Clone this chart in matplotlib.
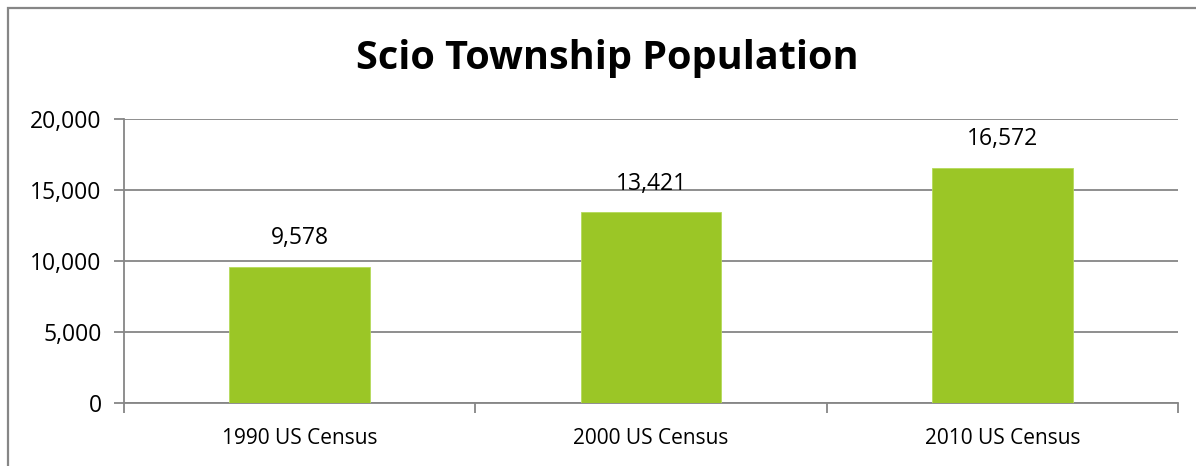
import matplotlib.pyplot as plt
from matplotlib.patches import Rectangle
from matplotlib.ticker import FuncFormatter

categories = ["1990 US Census", "2000 US Census", "2010 US Census"]
population = [9578, 13421, 16572]
y_ticks = [0, 5000, 10000, 15000, 20000]

plt.rcParams['font.family'] = ['Open Sans', 'DejaVu Sans']

fig = plt.figure(figsize=(11.96, 4.66), dpi=100)
W, H = 1196, 466
ax = fig.add_axes([124 / W, 1 - 403 / H, (1178 - 124) / W, (403 - 119) / H])

grid_color = "#868686"
x = range(len(categories))
bars = ax.bar(x, population, width=0.4, color="#9BC626", edgecolor="#B5DA5A", linewidth=0.6, zorder=3)

for xi, v in zip(x, population):
    ax.annotate(f"{v:,}", (xi, v), xytext=(0, 12), textcoords="offset points",
                ha="center", va="bottom", fontsize=16.5, color="#000000")

ax.set_xlim(-0.5, len(categories) - 0.5)
ax.set_ylim(0, 20000)
ax.set_yticks(y_ticks)
ax.yaxis.set_major_formatter(FuncFormatter(lambda v, p: f"{int(v):,}"))
ax.set_xticks(list(x))
ax.set_xticklabels(categories)
ax.set_xticks([i - 0.5 for i in range(len(categories) + 1)], minor=True)
ax.tick_params(axis="x", which="major", length=0, pad=18, labelsize=15)
ax.tick_params(axis="x", which="minor", length=7, width=1.3, color=grid_color)
ax.tick_params(axis="y", length=7, width=1.3, color=grid_color, labelsize=16.5, pad=9)

ax.grid(axis="y", color=grid_color, linewidth=1.3, zorder=0)
for side in ["top", "right"]:
    ax.spines[side].set_visible(False)
for side in ["left", "bottom"]:
    ax.spines[side].set_color(grid_color)
    ax.spines[side].set_linewidth(1.3)

fig.text(607 / W, 1 - 59 / H, "Scio Township Population", ha="center", va="center",
         fontsize=28.5, fontweight="bold")

# outer chart border (cropped on right/bottom)
fig.patches.append(Rectangle((7.5 / W, -0.1), 1.2, 1 - 7.5 / H + 0.1, transform=fig.transFigure,
                             fill=False, edgecolor=grid_color, linewidth=1.6))

fig.savefig("out.png", dpi=100)
